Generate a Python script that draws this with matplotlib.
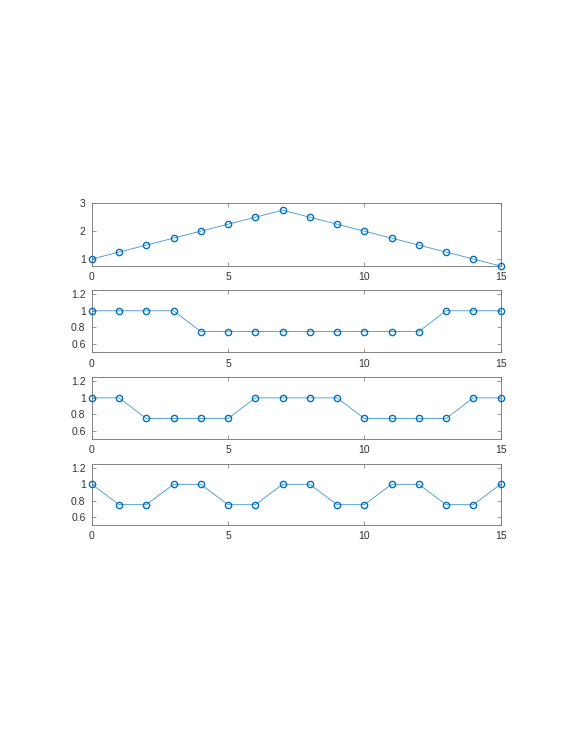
import matplotlib
matplotlib.use('Agg')
import matplotlib.pyplot as plt
import numpy as np

# data
x = list(range(16))
y1 = [1, 1.25, 1.5, 1.75, 2, 2.25, 2.5, 2.75, 2.5, 2.25, 2, 1.75, 1.5, 1.25, 1, 0.75]
y2 = [1, 1, 1, 1, 0.75, 0.75, 0.75, 0.75, 0.75, 0.75, 0.75, 0.75, 0.75, 1, 1, 1]
y3 = [1, 1, 0.75, 0.75, 0.75, 0.75, 1, 1, 1, 1, 0.75, 0.75, 0.75, 0.75, 1, 1]
y4 = [1, 0.75, 0.75, 1, 1, 0.75, 0.75, 1, 1, 0.75, 0.75, 1, 1, 0.75, 0.75, 1]
xticks = [0, 5, 10, 15]

series = [y1, y2, y3, y4]
ylims = [(0.75, 3), (0.5, 1.25), (0.5, 1.25), (0.5, 1.25)]
yticks = [[1, 2, 3], [0.6, 0.8, 1, 1.2], [0.6, 0.8, 1, 1.2], [0.6, 0.8, 1, 1.2]]
ylabels = [['1', '2', '3'], ['0.6', '0.8', '1', '1.2'], ['0.6', '0.8', '1', '1.2'], ['0.6', '0.8', '1', '1.2']]

plt.rcParams['font.family'] = ['Liberation Sans', 'DejaVu Sans']

# axes boxes measured in figure fractions
boxes = [(0.642, 0.7264), (0.5258, 0.6097), (0.4091, 0.4922), (0.2934, 0.3755)]
left, right = 0.160, 0.872

fig = plt.figure(figsize=(5.74, 7.43), dpi=100)
blue = '#0072BD'

for i in range(4):
    b, t = boxes[i]
    ax = fig.add_axes([left, b, right - left, t - b])
    ax.plot(x, series[i], color=blue, lw=0.6, alpha=0.75, zorder=2)
    ax.plot(x, series[i], 'o', mfc='none', mec=blue, ms=4.5, mew=1.0, clip_on=False, zorder=3)
    ax.set_xlim(0, 15)
    ax.set_ylim(*ylims[i])
    ax.set_xticks(xticks)
    ax.set_xticklabels([str(v) for v in xticks])
    ax.set_yticks(yticks[i])
    ax.set_yticklabels(ylabels[i])
    ax.tick_params(direction='in', length=3, width=0.5, top=True, right=True,
                   labelsize=7.5, colors='#707070', labelcolor='#333333', pad=4.5)
    for s in ax.spines.values():
        s.set_linewidth(0.6)
        s.set_color('#707070')

fig.savefig('out.png', dpi=100)
